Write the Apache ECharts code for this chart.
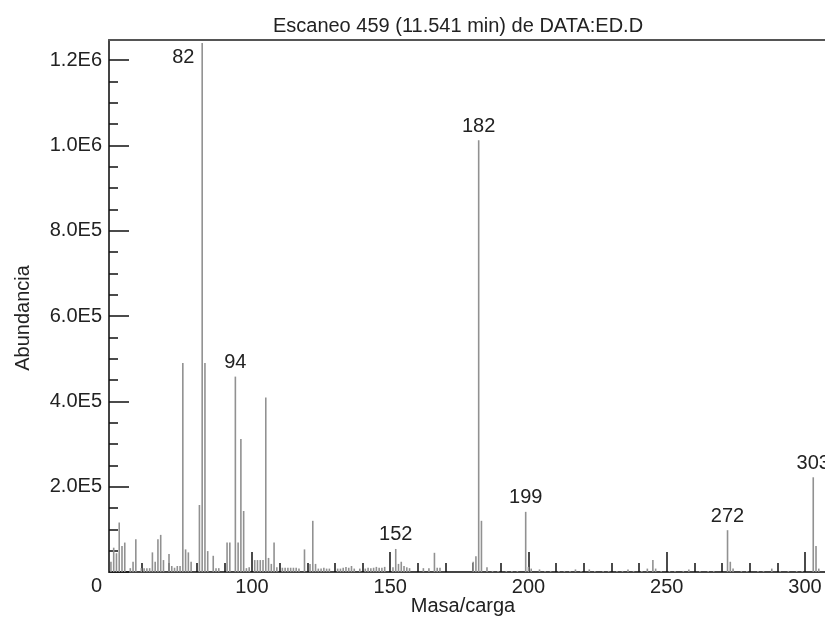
<!DOCTYPE html>
<html><head><meta charset="utf-8">
<script src="https://cdn.jsdelivr.net/npm/echarts@6/dist/echarts.min.js"></script>
<style>html,body{margin:0;padding:0;background:#fff}#c{width:825px;height:620px}</style>
</head><body><div id="c"></div>
<script>
// m/z values and abundances
const masses = [49,50,51,52,53,54,56,57,58,60,61,62,63,64,65,66,67,68,70,71,72,73,74,75,76,77,78,81,82,83,84,86,87,88,91,92,94,95,96,97,98,99,101,102,103,104,105,106,107,108,109,111,112,113,114,115,116,117,119,121,122,123,124,125,126,127,128,131,132,133,134,135,136,137,139,141,142,143,144,145,146,147,148,151,152,153,154,155,156,157,162,164,166,167,168,180,181,182,183,185,187,189,192,194,196,199,200,201,204,206,208,211,213,215,217,219,222,224,227,229,232,234,236,238,241,243,245,246,248,251,253,256,258,262,265,267,272,273,274,277,279,283,285,288,291,294,297,299,303,304,305];
const abundances = [24000,57000,44000,116000,61000,69000,9000,24000,77000,9000,9000,9000,9000,46000,24000,77000,87000,28000,42000,14000,10000,14000,14000,490000,53000,46000,24000,157000,1240000,490000,49000,38000,9000,9000,69000,69000,458000,69000,312000,143000,9000,11000,28000,28000,28000,28000,409000,33000,19000,69000,11000,10000,10000,10000,10000,10000,10000,8000,53000,19000,120000,19000,8000,8000,10000,8000,8000,8000,8000,10000,12000,10000,14000,8000,8000,8000,10000,9000,10000,12000,10000,10000,12000,11000,54000,19000,24000,14000,11000,9000,9000,9000,45000,10000,10000,24000,37000,1012000,120000,11000,2500,2500,2500,2500,2500,141000,12000,8000,6000,2500,2500,2500,2500,2500,6000,2500,6000,2500,2500,2500,2500,2500,6000,2500,2500,8000,28000,8000,2500,2500,2500,2500,6000,2500,2500,2500,98000,24000,8000,2500,2500,2500,2500,8000,2500,2500,2500,2500,222000,61000,8000];
const labeledPeaks = [82, 94, 152, 182, 199, 272, 303];
const xMajorTicks = [100, 150, 200, 250, 300];
const xMinorTicks = [60,70,80,90,110,120,130,140,160,170,180,190,210,220,230,240,260,270,280,290];
const yMajorTicks = [0, 200000, 400000, 600000, 800000, 1000000, 1200000];
const yTickLabels = ['0', '2.0E5', '4.0E5', '6.0E5', '8.0E5', '1.0E6', '1.2E6'];
const yMinorTicks = [50000,100000,150000,250000,300000,350000,450000,500000,550000,650000,700000,750000,850000,900000,950000,1050000,1100000,1150000];
const titleText = 'Escaneo 459 (11.541 min) de DATA:ED.D';

const FONT = 'Liberation Sans';
const FS = 20;
const TXT = '#222';
const X_MIN = 48.3, X_MAX = 307.25, Y_MAX = 1247000;

const data = masses.map((m, i) => {
  const item = { value: [m, abundances[i]] };
  if (labeledPeaks.includes(m)) {
    item.label = m === 82
      ? { show: true, position: [-7, 14], align: 'right', verticalAlign: 'middle' }
      : { show: true, position: 'top', distance: 4 };
  }
  return item;
});

const chart = echarts.init(document.getElementById('c'), null, { renderer: 'canvas' });
chart.setOption({
  animation: false,
  backgroundColor: '#fff',
  title: {
    text: titleText, left: 453, top: 11, textAlign: 'center',
    textStyle: { fontFamily: FONT, fontSize: FS, fontWeight: 'normal', color: TXT }
  },
  grid: { left: 109, right: 0, top: 40, bottom: 48, show: false, containLabel: false, outerBoundsMode: 'none' },
  xAxis: [{
    type: 'value', min: X_MIN, max: X_MAX, position: 'bottom',
    name: 'Masa/carga', nameLocation: 'middle', nameGap: 24, nameMoveOverlap: false,
    nameTextStyle: { fontFamily: FONT, fontSize: FS, color: TXT, padding: [0, 8, 0, 0] },
    axisLine: { show: true, onZero: false, lineStyle: { color: '#444', width: 2 } },
    axisTick: { show: true, inside: true, length: 20, customValues: xMajorTicks, lineStyle: { color: '#111', width: 1.5 } },
    axisLabel: { customValues: xMajorTicks, margin: 5, fontFamily: FONT, fontSize: FS, color: TXT },
    splitLine: { show: false }
  }, {
    type: 'value', min: X_MIN, max: X_MAX, position: 'bottom',
    axisLine: { show: false },
    axisTick: { show: true, inside: true, length: 9, customValues: xMinorTicks, lineStyle: { color: '#111', width: 1.5 } },
    axisLabel: { show: false }, splitLine: { show: false }
  }, {
    type: 'value', min: X_MIN, max: X_MAX, position: 'top',
    axisLine: { show: true, onZero: false, lineStyle: { color: '#555', width: 2 } },
    axisTick: { show: false }, axisLabel: { show: false }, splitLine: { show: false }
  }],
  yAxis: [{
    type: 'value', min: 0, max: Y_MAX, position: 'left',
    name: 'Abundancia', nameLocation: 'middle', nameGap: 76, nameRotate: 90, nameMoveOverlap: false,
    nameTextStyle: { fontFamily: FONT, fontSize: FS, color: TXT, padding: [0, 24, 0, 0] },
    axisLine: { show: true, onZero: false, lineStyle: { color: '#444', width: 2 } },
    axisTick: { show: true, inside: true, length: 20, customValues: yMajorTicks, lineStyle: { color: '#111', width: 1.5 } },
    axisLabel: {
      customValues: yMajorTicks, margin: 7, fontFamily: FONT, fontSize: FS, color: TXT,
      formatter: v => v === 0 ? '{z|0}' : yTickLabels[yMajorTicks.indexOf(v)],
      rich: { z: { padding: [28, 0, 0, 0], fontFamily: FONT, fontSize: FS, color: TXT } }
    },
    splitLine: { show: false }
  }, {
    type: 'value', min: 0, max: Y_MAX, position: 'left',
    axisLine: { show: false },
    axisTick: { show: true, inside: true, length: 9, customValues: yMinorTicks, lineStyle: { color: '#111', width: 1.5 } },
    axisLabel: { show: false }, splitLine: { show: false }
  }],
  series: [{
    type: 'bar', xAxisIndex: 0, yAxisIndex: 0, barWidth: 1.6,
    itemStyle: { color: '#919191' },
    label: { show: false, formatter: p => String(p.value[0]), fontFamily: FONT, fontSize: FS, color: TXT },
    data: data
  }]
});
</script></body></html>
